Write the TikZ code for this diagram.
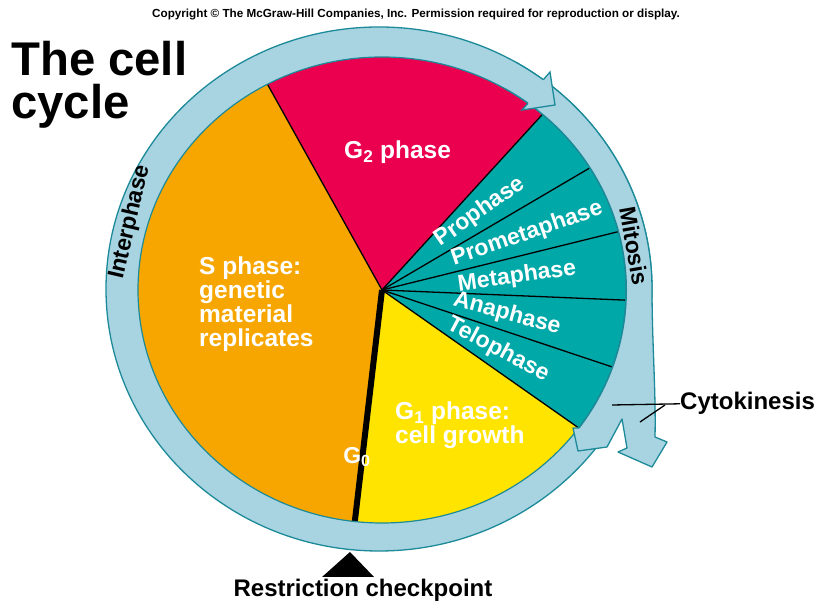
\documentclass[tikz,border=0pt]{standalone}
\usepackage{fontspec}
\setmainfont{Liberation Sans}
\definecolor{ringfill}{RGB}{168,212,226}
\definecolor{ringline}{RGB}{28,138,152}
\definecolor{g2red}{RGB}{234,0,78}
\definecolor{sorange}{RGB}{247,166,0}
\definecolor{g1yellow}{RGB}{255,228,0}
\definecolor{mteal}{RGB}{0,168,168}
\begin{document}
\begin{tikzpicture}[x=1pt,y=1pt,
  ring/.style={fill=ringfill, draw=ringline, line width=1.3pt, line join=round},
  divider/.style={draw=black, line width=1.3pt},
  inlabel/.style={text=white, font=\fontsize{24.5}{24}\selectfont\bfseries, inner sep=0pt},
  phaselabel/.style={text=white, font=\fontsize{23}{24}\selectfont\bfseries, inner sep=0pt},
  ringlabel/.style={text=black, font=\fontsize{23}{24}\selectfont\bfseries, inner sep=0pt},
  outlabel/.style={text=black, font=\fontsize{24}{26}\selectfont\bfseries, inner sep=0pt},
  pointer/.style={draw=black, line width=1.3pt}
]
\useasboundingbox (0,0) rectangle (821,604);
\fill[white] (0,0) rectangle (821,604);

% interphase ring
\path[ring] (379,315) ellipse [x radius=273pt, y radius=262pt];

% pie sectors
\begin{scope}[shift={(382,314)}]
  \fill[g2red] (0,0) -- (48.9:244pt and 233pt) arc[start angle=48.9, end angle=118, x radius=244pt, y radius=233pt] -- cycle;
  \fill[sorange] (0,0) -- (118:244pt and 233pt) arc[start angle=118, end angle=263.6, x radius=244pt, y radius=233pt] -- cycle;
  \fill[g1yellow] (0,0) -- (263.6:244pt and 233pt) arc[start angle=263.6, end angle=323.7, x radius=244pt, y radius=233pt] -- cycle;
  \fill[mteal] (0,0) -- (-36.3:244pt and 233pt) arc[start angle=-36.3, end angle=48.9, x radius=244pt, y radius=233pt] -- cycle;
  \foreach \a in {118,48.9,31.6,14.5,-2.5,-19.3,-36.3}
    \draw[divider] (0,0) -- (\a:244pt and 233pt);
  \draw[line width=6pt] (0,0) -- (263.6:244pt and 233pt);
  \draw[draw=ringline, line width=1.2pt] (0,0) ellipse [x radius=244pt, y radius=233pt];
\end{scope}

% mitosis band with cytokinesis arrowheads
\path[ring] (515.5,541.9) arc[start angle=60, end angle=0, x radius=273pt, y radius=262pt]
  .. controls (652,262) and (656,212) .. (655,167)
  -- (667,162) -- (652,137) -- (618,152) -- (627,156) -- (622,185) -- (607,157)
  -- (578,153) -- (573,176) -- (579,176)
  arc[start angle=-36.3, end angle=60, x radius=244pt, y radius=233pt];

% interphase arrowhead at top
\fill[ringfill] (543.3,524.2) -- (550,532) -- (555,499) -- (522,494) -- (528,500.7) -- cycle;
\draw[draw=ringline, line width=1.3pt, line join=miter] (543.3,524.2) -- (550,532) -- (555,499) -- (522,494) -- (528,500.7);

% texts
\node[anchor=north west, inner sep=0pt, font=\fontsize{47.3}{43}\selectfont\bfseries, align=left] (title) at (11,563) {The cell\\cycle};
\node[inner sep=0pt, font=\fontsize{11.7}{12}\selectfont\bfseries] (copy) at (416,589) {Copyright \textcopyright{} The McGraw-Hill Companies, Inc. Permission required for reproduction or display.};

\node[inlabel, anchor=base west] (g2) at (344,445) {G\textsubscript{2} phase};
\node[inlabel, anchor=north west, align=left] (sph) at (199,347) {S phase:\\genetic\\material\\replicates};
\node[inlabel, anchor=north west, align=left] (g1) at (395,202) {G\textsubscript{1} phase:\\cell growth};
\node[phaselabel] (g0) at (357,147) {G\textsubscript{0}};
\node[phaselabel, rotate=35] (pro) at (480,392) {Prophase};
\node[phaselabel, rotate=19] (prometa) at (527,370) {Prometaphase};
\node[phaselabel, rotate=8] (meta) at (517,327) {Metaphase};
\node[phaselabel, rotate=-15] (ana) at (507,290) {Anaphase};
\node[phaselabel, rotate=-28] (telo) at (498,254) {Telophase};
\node[ringlabel, rotate=77] (inter) at (130,382) {Interphase};
\node[ringlabel, rotate=-80] (mito) at (634,358) {Mitosis};

\node[outlabel, anchor=base west] (cyto) at (680,194) {Cytokinesis};
\coordinate (cytoA) at (612,199);
\coordinate (cytoJ) at (665,199);
\coordinate (cytoB) at (640,182);
\draw[pointer] (cyto.west) -- (cytoA);
\draw[pointer] (cytoJ) -- (cytoB);

\node[outlabel, anchor=base] (restr) at (363,7) {Restriction checkpoint};
\fill[black] (350,52) -- (322,27) -- (374,27) -- cycle;
\end{tikzpicture}
\end{document}
